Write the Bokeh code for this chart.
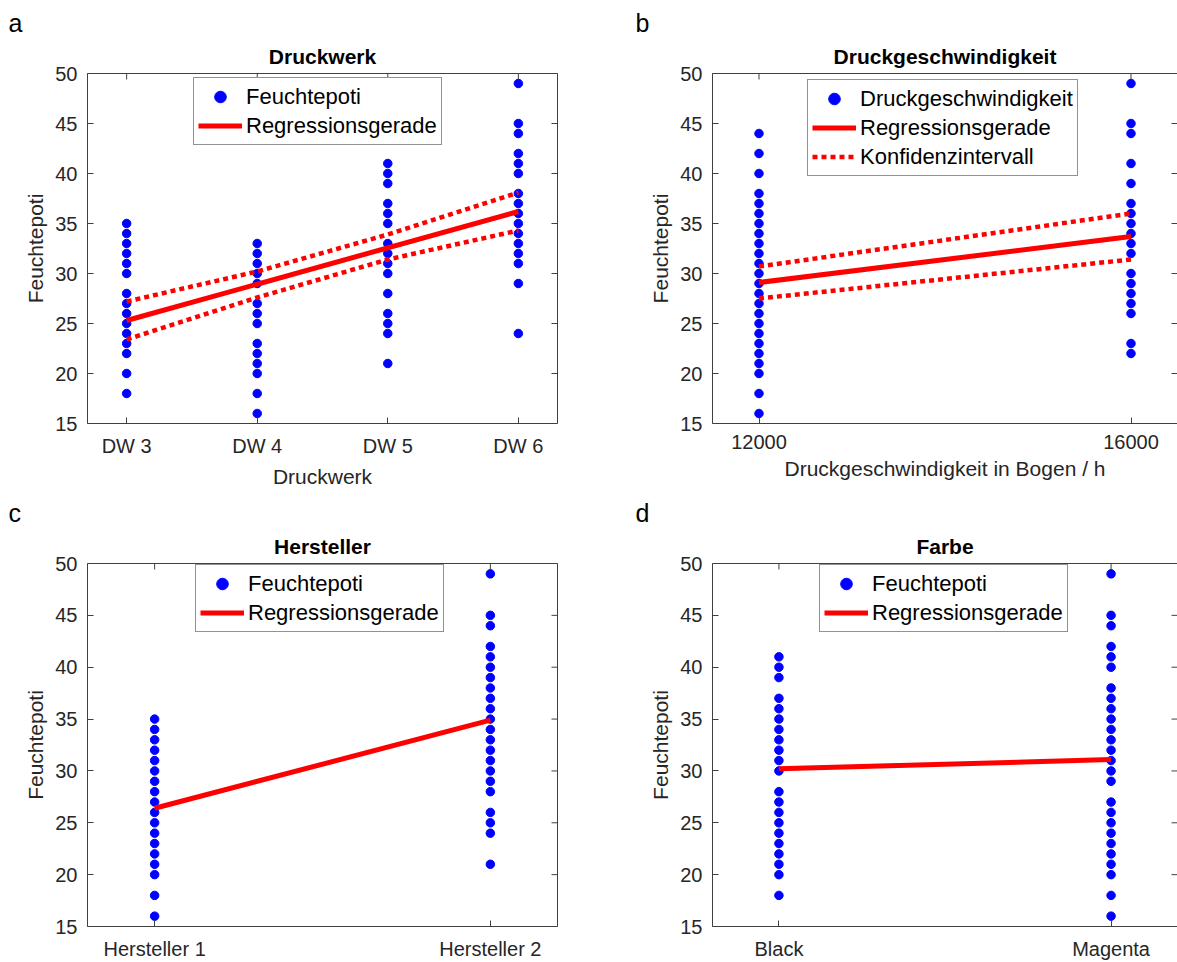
import math
from bokeh.plotting import figure
from bokeh.models import LinearAxis, FixedTicker, Legend, LegendItem, Range1d, Title
from bokeh.layouts import column, row
from bokeh.embed import file_html
from bokeh.resources import INLINE

# ---------------- data ----------------
# Panel a: Druckwerk
dw_positions = [3, 4, 5, 6]
dw_labels = ["DW 3", "DW 4", "DW 5", "DW 6"]
dw3 = [35, 34, 33, 32, 31, 30, 28, 27, 26, 25, 24, 23, 22, 20, 18]
dw4 = [33, 32, 31, 30, 29, 27, 26, 25, 23, 22, 21, 20, 18, 16]
dw5 = [41, 40, 39, 37, 36, 35, 33, 32, 31, 30, 28, 26, 25, 24, 21]
dw6 = [49, 45, 44, 42, 41, 40, 38, 37, 36, 35, 34, 33, 32, 31, 29, 24]
reg_a_x = [3, 6]
reg_a_y = [25.3, 36.2]
ci_a_upper = [27.2, 30.2, 33.9, 38.1]
ci_a_lower = [23.4, 27.6, 31.4, 34.3]

# Panel b: Druckgeschwindigkeit
speed_ticks = [12000, 16000]
speed_12000 = [44, 42, 40, 38, 37, 36, 35, 34, 33, 32, 31, 30, 29, 28, 27, 26,
               25, 24, 23, 22, 21, 20, 18, 16]
speed_16000 = [49, 45, 44, 41, 39, 37, 36, 35, 34, 33, 32, 30, 29, 28, 27, 26,
               23, 22]
reg_b_y = [29.1, 33.7]
ci_b_upper = [30.7, 36.0]
ci_b_lower = [27.5, 31.4]

# Panel c: Hersteller
hersteller_labels = ["Hersteller 1", "Hersteller 2"]
hersteller_1 = [35, 34, 33, 32, 31, 30, 29, 28, 27, 26, 25, 24, 23, 22, 21, 20,
                18, 16]
hersteller_2 = [49, 45, 44, 42, 41, 40, 39, 38, 37, 36, 35, 34, 33, 32, 31, 30,
                29, 28, 26, 25, 24, 21]
reg_c_y = [26.4, 34.9]

# Panel d: Farbe
farbe_labels = ["Black", "Magenta"]
farbe_black = [41, 40, 39, 37, 36, 35, 34, 33, 32, 31, 30, 28, 27, 26, 25, 24,
               23, 22, 21, 20, 18]
farbe_magenta = [49, 45, 44, 42, 41, 40, 38, 37, 36, 35, 34, 33, 32, 31, 30, 29,
                 27, 26, 25, 24, 23, 22, 21, 20, 18, 16]
reg_d_y = [30.2, 31.1]

y_ticks = [15, 20, 25, 30, 35, 40, 45, 50]
y_lim = (15, 50)

FONT = "Liberation Sans"
TXT = "#262626"
AXC = "#404040"
BLUE = "#0000FF"
RED = "#FF0000"


def make_fig(width, height, xr, xticks, overrides, letter, title, xlabel,
             bl, br, bt, bb, right_line=True, letter_offset=-79):
    p = figure(width=width, height=height, x_range=Range1d(*xr),
               y_range=Range1d(*y_lim), output_backend="svg",
               toolbar_location=None, min_border_left=bl,
               min_border_right=br, min_border_top=bt, min_border_bottom=bb)
    p.xgrid.visible = False
    p.ygrid.visible = False
    p.outline_line_color = None
    p.background_fill_color = "white"
    p.border_fill_color = "white"

    # panel letter as the outer title
    p.title.text = letter
    p.title.align = "left"
    p.title.offset = letter_offset
    p.title.text_font = FONT
    p.title.text_font_size = "25px"
    p.title.text_font_style = "normal"
    p.title.text_color = "black"
    p.title.standoff = 0

    xa = p.xaxis[0]
    xa.ticker = FixedTicker(ticks=xticks)
    if overrides:
        xa.major_label_overrides = overrides
    ya = p.yaxis[0]
    ya.ticker = FixedTicker(ticks=y_ticks)
    for ax in (xa, ya):
        ax.major_label_text_font = FONT
        ax.major_label_text_font_size = "20px"
        ax.major_label_text_color = TXT
        ax.axis_line_color = AXC
        ax.axis_line_width = 1
        ax.major_tick_line_color = AXC
        ax.major_tick_in = 6
        ax.major_tick_out = 0
        ax.minor_tick_line_color = None
        ax.axis_label_text_font = FONT
        ax.axis_label_text_font_size = "21px"
        ax.axis_label_text_font_style = "normal"
        ax.axis_label_text_color = TXT
    xa.major_label_standoff = 11
    xa.axis_label_standoff = 5
    ya.major_label_standoff = 10
    ya.axis_label_standoff = 5
    ya.axis_label = "Feuchtepoti"
    if xlabel:
        xa.axis_label = xlabel

    # box lines (top always, right only where visible)
    top = LinearAxis(ticker=FixedTicker(ticks=[]))
    top.axis_line_color = AXC
    top.major_tick_line_color = None
    top.minor_tick_line_color = None
    top.major_label_standoff = 0
    p.add_layout(top, "above")
    if right_line:
        right = LinearAxis(ticker=FixedTicker(ticks=[]))
        right.axis_line_color = AXC
        right.major_tick_line_color = None
        right.minor_tick_line_color = None
        right.major_label_standoff = 0
        p.add_layout(right, "right")

    # inward ticks on the top and right edges (half of each dash is clipped)
    p.scatter(xticks, [y_lim[1]] * len(xticks), marker="dash", size=12,
              angle=math.pi / 2, line_color=AXC, line_width=1)
    p.scatter([xr[1]] * len(y_ticks), y_ticks, marker="dash", size=12,
              line_color=AXC, line_width=1)

    name = Title(text=title, align="center", text_font=FONT,
                 text_font_size="21px", text_font_style="bold",
                 text_color="black", standoff=12)
    p.add_layout(name, "above")
    return p


def style_legend(leg):
    leg.label_text_font = FONT
    leg.label_text_font_size = "22px"
    leg.label_text_color = "black"
    leg.glyph_width = 44
    leg.glyph_height = 29
    leg.label_height = 29
    leg.spacing = 0
    leg.padding = 4
    leg.margin = 0
    leg.label_standoff = 4
    leg.border_line_color = "#262626"
    leg.border_line_width = 1
    leg.background_fill_color = "white"
    leg.background_fill_alpha = 1


# ---------------- panel a ----------------
pa = make_fig(600, 490, (2.7, 6.3), dw_positions,
              {p: l for p, l in zip(dw_positions, dw_labels)},
              "a", "Druckwerk", "Druckwerk", 87, 43, 73, 65)
xs, ys = [], []
for pos, vals in zip(dw_positions, [dw3, dw4, dw5, dw6]):
    xs += [pos] * len(vals)
    ys += vals
ra_dots = pa.scatter(xs, ys, size=8.5, color=BLUE)
pa.line(dw_positions, ci_a_upper, line_color=RED, line_width=4.5,
        line_dash="5 4")
pa.line(dw_positions, ci_a_lower, line_color=RED, line_width=4.5,
        line_dash="5 4")
ra_reg = pa.line(reg_a_x, reg_a_y, line_color=RED, line_width=5)
leg_a = Legend(items=[LegendItem(label="Feuchtepoti", renderers=[ra_dots]),
                      LegendItem(label="Regressionsgerade", renderers=[ra_reg])],
               location=(106, 278))
style_legend(leg_a)
pa.add_layout(leg_a)

# ---------------- panel b ----------------
pb = make_fig(577, 490, (11500, 16500), speed_ticks,
              {12000: "12000", 16000: "16000"},
              "b", "Druckgeschwindigkeit", "Druckgeschwindigkeit in Bogen / h",
              112, 0, 73, 65, right_line=False, letter_offset=-77)
xs = [speed_ticks[0]] * len(speed_12000) + [speed_ticks[1]] * len(speed_16000)
ys = speed_12000 + speed_16000
rb_dots = pb.scatter(xs, ys, size=8.5, color=BLUE)
rb_up = pb.line(speed_ticks, ci_b_upper, line_color=RED, line_width=4.5,
                line_dash="5 4")
rb_lo = pb.line(speed_ticks, ci_b_lower, line_color=RED, line_width=4.5,
                line_dash="5 4")
rb_reg = pb.line(speed_ticks, reg_b_y, line_color=RED, line_width=5)
leg_b = Legend(items=[
    LegendItem(label="Druckgeschwindigkeit", renderers=[rb_dots]),
    LegendItem(label="Regressionsgerade", renderers=[rb_reg]),
    LegendItem(label="Konfidenzintervall", renderers=[rb_up])],
    location=(95, 247))
style_legend(leg_b)
pb.add_layout(leg_b)

# ---------------- panel c ----------------
pc = make_fig(600, 472, (0.8, 2.2), [1, 2],
              {1: hersteller_labels[0], 2: hersteller_labels[1]},
              "c", "Hersteller", None, 87, 43, 73, 33)
xs = [1] * len(hersteller_1) + [2] * len(hersteller_2)
ys = hersteller_1 + hersteller_2
rc_dots = pc.scatter(xs, ys, size=8.5, color=BLUE)
rc_reg = pc.line([1, 2], reg_c_y, line_color=RED, line_width=5)
leg_c = Legend(items=[LegendItem(label="Feuchtepoti", renderers=[rc_dots]),
                      LegendItem(label="Regressionsgerade", renderers=[rc_reg])],
               location=(108, 294))
style_legend(leg_c)
pc.add_layout(leg_c)

# ---------------- panel d ----------------
pd_ = make_fig(577, 472, (0.8, 2.2), [1, 2],
               {1: farbe_labels[0], 2: farbe_labels[1]},
               "d", "Farbe", None, 112, 0, 73, 33, right_line=False,
               letter_offset=-77)
xs = [1] * len(farbe_black) + [2] * len(farbe_magenta)
ys = farbe_black + farbe_magenta
rd_dots = pd_.scatter(xs, ys, size=8.5, color=BLUE)
rd_reg = pd_.line([1, 2], reg_d_y, line_color=RED, line_width=5)
leg_d = Legend(items=[LegendItem(label="Feuchtepoti", renderers=[rd_dots]),
                      LegendItem(label="Regressionsgerade", renderers=[rd_reg])],
               location=(107, 294))
style_legend(leg_d)
pd_.add_layout(leg_d)

layout = column(row(pa, pb), row(pc, pd_))
open("out.html", "w").write(file_html(layout, INLINE))
